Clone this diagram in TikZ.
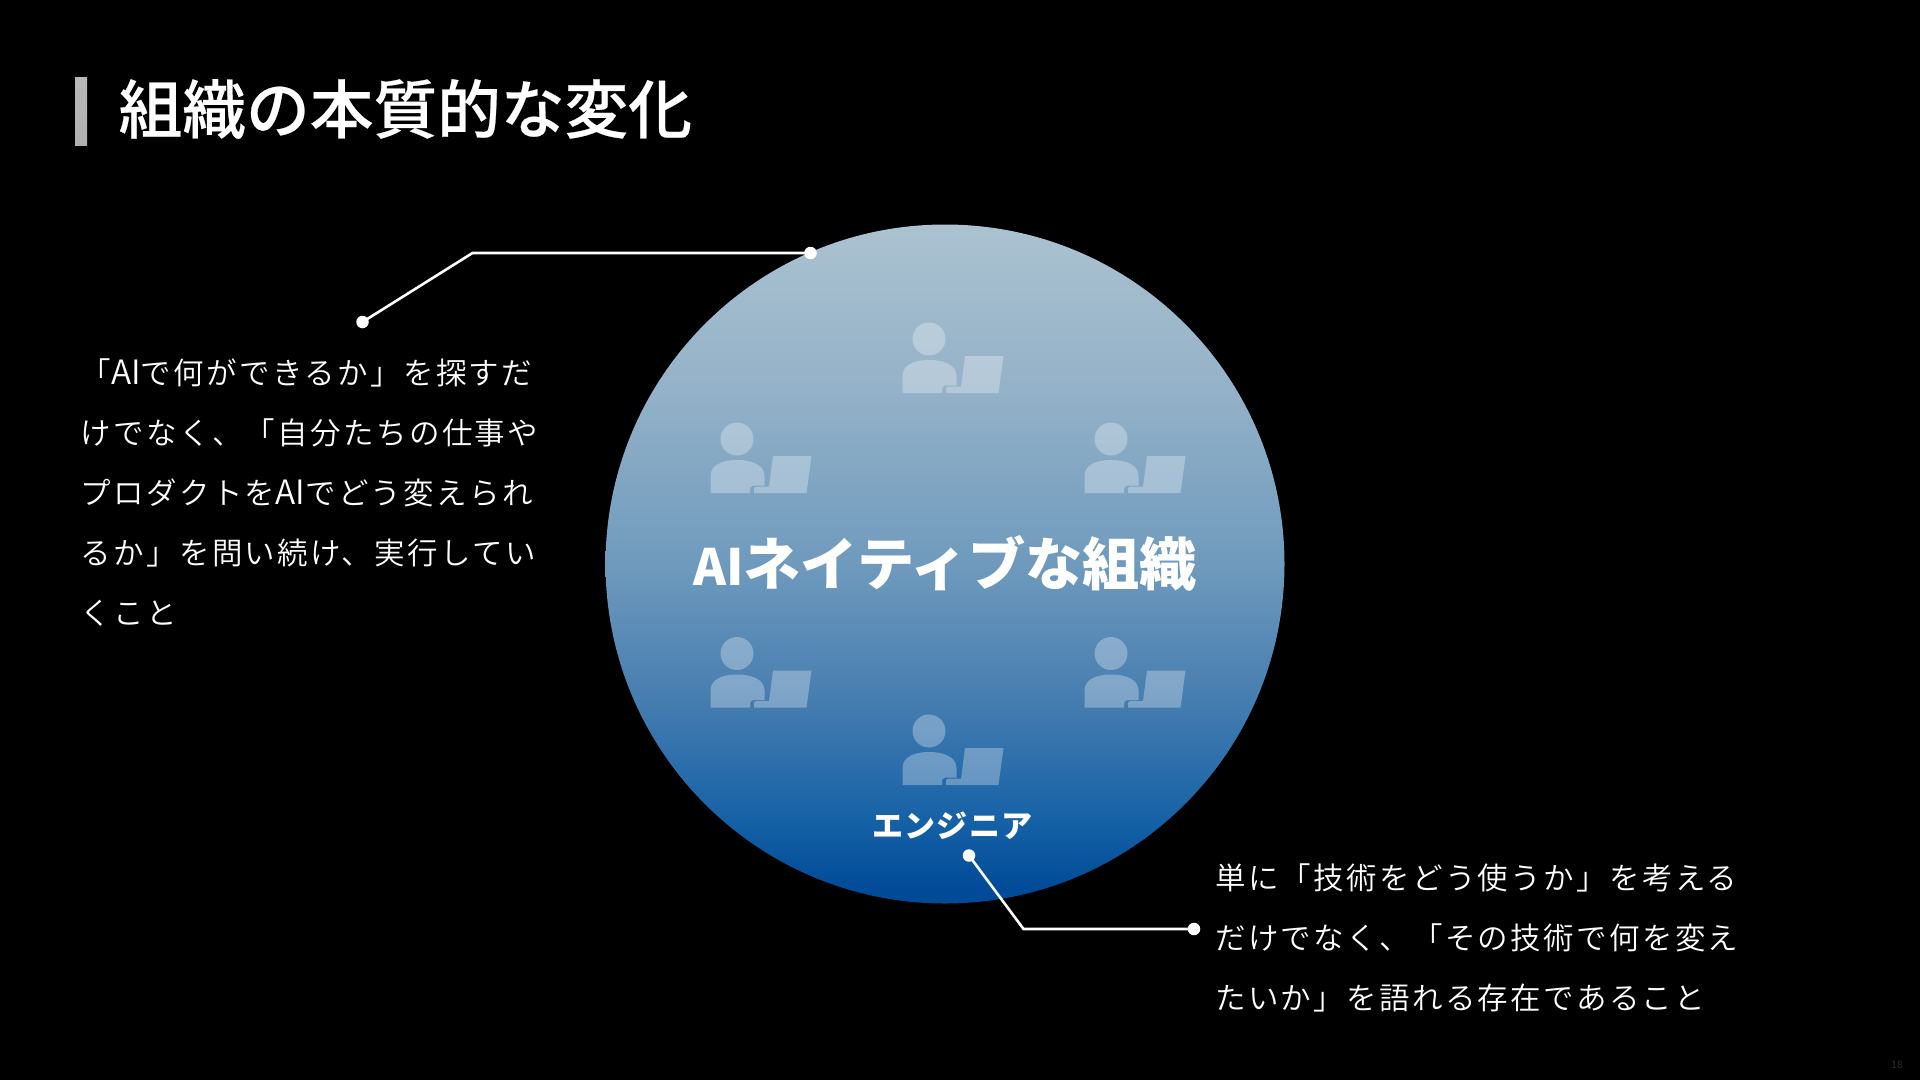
\documentclass[tikz,border=0pt]{standalone}
\usepackage{fontspec}
\setmainfont{Noto Sans CJK JP}
\newfontfamily\jpbody[LetterSpace=7.7]{Noto Sans CJK JP DemiLight}
\newfontfamily\jptight{Noto Sans CJK JP DemiLight}
\newfontfamily\jpbold{Noto Sans CJK JP}
\newfontfamily\jpmed[FakeBold=0.4]{Noto Sans CJK JP Medium}
\newcommand{\tightAI}{{\jptight\fontsize{33.5}{36}\selectfont AI}}
\definecolor{orbA}{HTML}{ABC2D0}
\definecolor{orbB}{HTML}{004A98}
\definecolor{orbC}{HTML}{1561A6}
\definecolor{orbD}{HTML}{467DB0}
\definecolor{orbE}{HTML}{6F9ABD}
\definecolor{orbF}{HTML}{93B1C8}
\definecolor{barA}{HTML}{B8B8B8}
\definecolor{barB}{HTML}{B0B0B0}
\pgfdeclareverticalshading{orbshade}{100bp}{
 color(0bp)=(orbB);
 color(26bp)=(orbB);
 color(31bp)=(orbC);
 color(40bp)=(orbD);
 color(50bp)=(orbE);
 color(62.5bp)=(orbF);
 color(75bp)=(orbA);
 color(100bp)=(orbA)}
\pgfdeclareverticalshading{barshade}{100bp}{
 color(0bp)=(barB); color(25bp)=(barB); color(75bp)=(barA); color(100bp)=(barA)}
\tikzset{
 bodytext/.style={text=white,anchor=west,inner sep=0pt,font={\jpbody\fontsize{30.5}{36}\selectfont}},
 callout/.style={draw=white,line width=2.6pt,line join=miter},
 dotmark/.style={circle,fill=white,inner sep=0pt,minimum size=12.5pt},
 iconpart/.style={fill=white,fill opacity=0.3},
 worker/.pic={
  \fill[iconpart] (0,0) circle (16.5);
  \fill[iconpart] (-26.5,54) -- (-26.5,37) .. controls (-26.5,26) and (-15,21) .. (0,21) .. controls (15,21) and (27.5,26) .. (27.5,37) -- (27.5,46.5) -- (16,46.5) .. controls (13,46.5) and (13,49) .. (13,54) -- cycle;
  \fill[iconpart] (36,17) -- (74.5,17) -- (69.5,54) -- (17,54) -- (17,50) .. controls (17,48.5) and (18,47.5) .. (20,47.5) -- (32,47.5) -- cycle;
 }
}
\begin{document}
\begin{tikzpicture}[x=1pt,y=-1pt]
\useasboundingbox (0,0) rectangle (1920,1080);
\fill[black] (0,0) rectangle (1920,1080);
% title
\node[name=titlebar,inner sep=0pt,minimum width=12pt,minimum height=68pt,shading=barshade,anchor=north west] at (75,77) {};
\node[name=title,text=white,anchor=west,inner sep=0pt,font={\jpmed\fontsize{63.7}{70}\selectfont}] at (118.5,109) {組織の本質的な変化};
% orb
\node[name=orb,circle,inner sep=0pt,minimum size=679pt,shading=orbshade] at (945,564) {};
% icons
\pic at (929,339) {worker};
\pic at (737,439) {worker};
\pic at (1111,439) {worker};
\pic at (737,653.5) {worker};
\pic at (1111,653.5) {worker};
\pic at (929,731) {worker};
% labels
\node[name=orbtitle,text=white,inner sep=0pt,font={\jpbold\bfseries\fontsize{57.2}{62}\selectfont}] at (945,563) {{\fontsize{50}{62}\selectfont AI}ネイティブな組織};
\node[name=engineer,text=white,inner sep=0pt,font={\jpbold\bfseries\fontsize{31}{34}\selectfont}] at (952.5,826) {\addfontfeature{LetterSpace=3.5}エンジニア};
% left text
\node[name=l1,bodytext] at (80.5,373) {「\tightAI で何ができるか」を探すだ};
\node[name=l2,bodytext] at (80.5,433) {けでなく、「自分たちの仕事や};
\node[name=l3,bodytext] at (80.5,493) {プロダクトを\tightAI でどう変えられ};
\node[name=l4,bodytext] at (80.5,553) {るか」を問い続け、実行してい};
\node[name=l5,bodytext] at (80.5,613) {くこと};
% right text
\node[name=r1,bodytext] at (1215,878) {単に「技術をどう使うか」を考える};
\node[name=r2,bodytext] at (1215,938) {だけでなく、「その技術で何を変え};
\node[name=r3,bodytext] at (1215,998) {たいか」を語れる存在であること};
% callouts
\node[dotmark,name=d1] at (362.5,322) {};
\node[dotmark,name=d2] at (810.5,253) {};
\coordinate (e1) at (472.5,253);
\draw[callout] (d1.center) -- (e1) -- (d2.center);
\node[dotmark,name=d3] at (969,855.5) {};
\node[dotmark,name=d4] at (1194,929) {};
\coordinate (e2) at (1023.5,929);
\draw[callout] (d3.center) -- (e2) -- (d4.center);
% page number
\node[name=pageno,text=white!18!black,inner sep=0pt,font={\fontsize{10}{12}\selectfont}] at (1897,1065) {18};
\end{tikzpicture}
\end{document}
